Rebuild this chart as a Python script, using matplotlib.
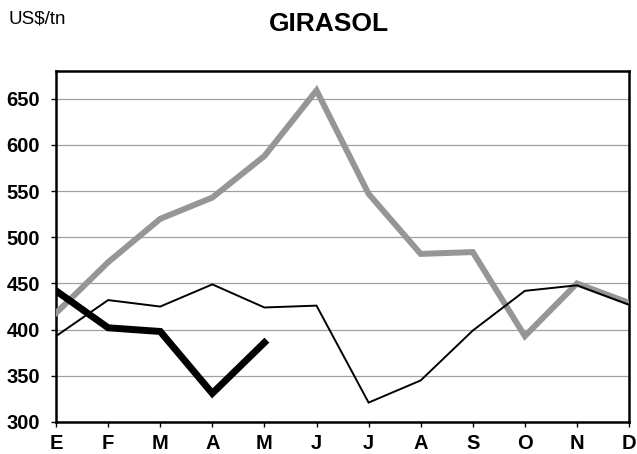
import matplotlib.pyplot as plt

months = ["E", "F", "M", "A", "M", "J", "J", "A", "S", "O", "N", "D"]
gray_series = [418, 473, 520, 543, 588, 659, 547, 482, 484, 393, 450, 429]
thin_series = [393, 432, 425, 449, 424, 426, 321, 345, 399, 442, 448, 427]
thick_series = [442, 402, 398, 331, 386]

plt.rcParams["font.family"] = ["Liberation Sans", "DejaVu Sans"]

fig = plt.figure(figsize=(6.37, 4.54), dpi=100)
ax = fig.add_axes([0.088, 0.0705, 0.8995, 0.773])

x = list(range(len(months)))
ax.plot(x, gray_series, color="#969696", lw=4.3, solid_joinstyle="miter", zorder=3)
ax.plot(x, thin_series, color="black", lw=1.4, solid_joinstyle="miter", zorder=4)
ax.plot(x[:len(thick_series)], thick_series, color="black", lw=5, solid_joinstyle="miter", zorder=5)

ax.set_xlim(0, 11)
ax.set_ylim(300, 680)
ax.set_yticks(range(300, 651, 50))
ax.set_xticks(x)
ax.set_xticklabels(months)
ax.grid(axis="y", color="#a0a0a0", lw=0.9)
ax.set_axisbelow(True)

for s in ax.spines.values():
    s.set_linewidth(1.8)
ax.tick_params(axis="both", direction="out", length=3.6, width=1, labelsize=14.5)
ax.tick_params(axis="y", pad=8)
ax.tick_params(axis="x", pad=5)
for lbl in ax.get_xticklabels() + ax.get_yticklabels():
    lbl.set_fontweight("bold")

fig.text(0.516, 0.947, "GIRASOL", ha="center", va="center", fontsize=19, fontweight="bold")
fig.text(0.014, 0.958, "US$/tn", ha="left", va="center", fontsize=13.5)

fig.savefig("out.png", dpi=100)
